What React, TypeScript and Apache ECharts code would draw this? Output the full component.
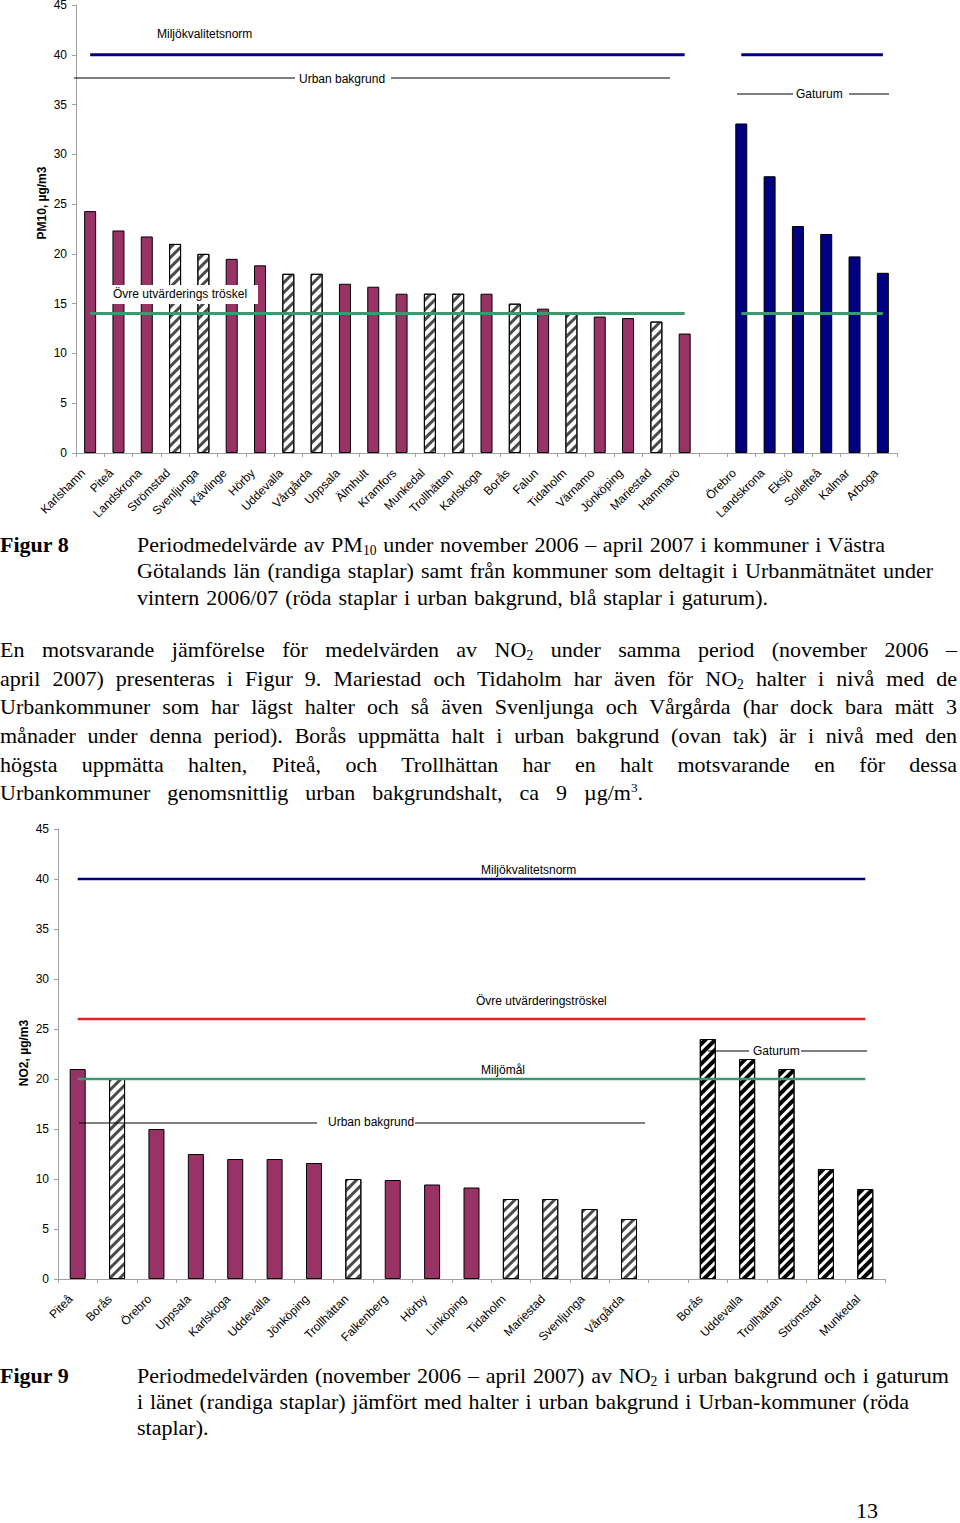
import React, { useEffect, useRef } from 'react';
import * as echarts from 'echarts';

// ---------- DATA ----------
const pm10Categories = ['Karlshamn', 'Piteå', 'Landskrona', 'Strömstad', 'Svenljunga', 'Kävlinge', 'Hörby', 'Uddevalla', 'Vårgårda', 'Uppsala', 'Älmhult', 'Kramfors', 'Munkedal', 'Trollhättan', 'Karlskoga', 'Borås', 'Falun', 'Tidaholm', 'Värnamo', 'Jönköping', 'Mariestad', 'Hammarö', '', 'Örebro', 'Landskrona', 'Eksjö', 'Sollefteå', 'Kalmar', 'Arboga'];
const pm10Values = [24.3, 22.35, 21.75, 21.0, 20.0, 19.5, 18.85, 18.0, 18.0, 17.0, 16.7, 16.0, 16.0, 16.0, 16.0, 15.0, 14.5, 14.0, 13.7, 13.55, 13.2, 12.0, null, 33.1, 27.8, 22.8, 22.0, 19.75, 18.1];
// u = urban bakgrund (red), h = Västra Götaland (hatched), g = gaturum (blue)
const pm10Kinds = ['u', 'u', 'u', 'h', 'h', 'u', 'u', 'h', 'h', 'u', 'u', 'u', 'h', 'h', 'u', 'h', 'u', 'h', 'u', 'u', 'h', 'u', '', 'g', 'g', 'g', 'g', 'g', 'g'];
const pm10Norm = 40;
const pm10Threshold = 14;
const pm10Segments = [[0, 21], [23, 28]];

const no2Categories = ['Piteå', 'Borås', 'Örebro', 'Uppsala', 'Karlskoga', 'Uddevalla', 'Jönköping', 'Trollhättan', 'Falkenberg', 'Hörby', 'Linköping', 'Tidaholm', 'Mariestad', 'Svenljunga', 'Vårgårda', '', 'Borås', 'Uddevalla', 'Trollhättan', 'Strömstad', 'Munkedal'];
const no2Values = [21.0, 20.0, 15.0, 12.5, 12.0, 12.0, 11.6, 10.0, 9.9, 9.45, 9.15, 8.0, 8.0, 7.0, 6.0, null, 24.0, 22.0, 21.0, 11.0, 9.0];
// s = gaturum in länet (bold hatched)
const no2Kinds = ['u', 'h', 'u', 'u', 'u', 'u', 'u', 'h', 'u', 'u', 'u', 'h', 'h', 'h', 'h', '', 's', 's', 's', 's', 's'];
const no2Norm = 40;
const no2Threshold = 26;
const no2Target = 20;
const no2Segments = [[0, 20]];

const yMin = 0;
const yMax = 45;
const yStep = 5;

// ---------- STYLES ----------
const RED = '#993366';
const NAVY = '#000080';
const GREEN = '#3A9A6E';
const LINE_RED = '#E32028';
const AXIS = '#A0A0A0';
const SANS = '"Liberation Sans", Arial, sans-serif';
const SERIF = '"Liberation Serif", "Times New Roman", serif';

function barItem(v: number | null, kind: string) {
  if (v == null) return '-';
  const base: any = { borderColor: '#000', borderWidth: 1 };
  if (kind === 'u') base.color = RED;
  else if (kind === 'g') base.color = NAVY;
  else if (kind === 'h') {
    base.color = '#fff';
    base.decal = { symbol: 'rect', symbolSize: 1, dashArrayX: [1, 0], dashArrayY: [2.4, 3.4], rotation: -Math.PI / 4, color: '#4a4a4a' };
  } else {
    base.color = '#fff';
    base.decal = { symbol: 'rect', symbolSize: 1, dashArrayX: [1, 0], dashArrayY: [3.2, 3], rotation: -Math.PI / 4, color: '#000' };
  }
  return { value: v, itemStyle: base };
}

function hLine(axisIdx: number, value: number, seg: number[], color: string, width: number) {
  return {
    type: 'line', xAxisIndex: axisIdx, yAxisIndex: axisIdx,
    data: [[seg[0], value], [seg[1], value]],
    symbol: 'none', silent: true, z: 5,
    lineStyle: { color, width },
  };
}

function xAxis(gridIndex: number, data: string[]) {
  return {
    type: 'category', gridIndex, data, boundaryGap: true,
    axisLine: { show: true, lineStyle: { color: AXIS, width: 1 } },
    axisTick: { show: true, length: 4, lineStyle: { color: AXIS } },
    axisLabel: { interval: 0, rotate: 45, margin: 11, padding: [0, 10, 0, 0], color: '#000', fontSize: 12, fontFamily: SANS },
    splitLine: { show: false },
  };
}

function yAxis(gridIndex: number) {
  return {
    type: 'value', gridIndex, min: yMin, max: yMax, interval: yStep,
    axisLine: { show: true, lineStyle: { color: AXIS, width: 1 } },
    axisTick: { show: true, length: 4, lineStyle: { color: AXIS } },
    axisLabel: { margin: 9, color: '#000', fontSize: 12, fontFamily: SANS },
    splitLine: { show: false },
  };
}

function txt(text: string, x: number, y: number, extra: any = {}) {
  return {
    type: 'text', x, y, z: 100, silent: true,
    style: { text, fill: '#000', font: `12px ${SANS}`, textVerticalAlign: 'middle', ...extra },
  };
}

function seg(x1: number, y1: number, x2: number, y2: number) {
  return { type: 'line', z: 100, silent: true, shape: { x1, y1, x2, y2 }, style: { stroke: '#000', lineWidth: 1 } };
}

function Chart() {
  const ref = useRef<HTMLDivElement>(null);
  useEffect(() => {
    if (!ref.current) return;
    const chart = echarts.init(ref.current, null, { renderer: 'svg' });
    const option: any = {
      animation: false,
      textStyle: { fontFamily: SANS },
      grid: [
        { left: 76, top: 5, width: 821, height: 448, outerBoundsMode: 'none' },
        { left: 58, top: 829, width: 827, height: 450, outerBoundsMode: 'none' },
      ],
      xAxis: [xAxis(0, pm10Categories), xAxis(1, no2Categories)],
      yAxis: [yAxis(0), yAxis(1)],
      series: [
        {
          type: 'bar', xAxisIndex: 0, yAxisIndex: 0, barWidth: 12, z: 2,
          data: pm10Values.map((v, i) => barItem(v, pm10Kinds[i])),
        },
        {
          type: 'bar', xAxisIndex: 1, yAxisIndex: 1, barWidth: 16, z: 2,
          data: no2Values.map((v, i) => barItem(v, no2Kinds[i])),
        },
        ...pm10Segments.map((s) => hLine(0, pm10Norm, s, NAVY, 3)),
        ...pm10Segments.map((s) => hLine(0, pm10Threshold, s, GREEN, 3)),
        ...no2Segments.map((s) => hLine(1, no2Norm, s, NAVY, 2.5)),
        ...no2Segments.map((s) => hLine(1, no2Threshold, s, LINE_RED, 2.5)),
        ...no2Segments.map((s) => hLine(1, no2Target, s, GREEN, 2.5)),
      ],
      graphic: [
        // Figure 8 annotations
        txt('Miljökvalitetsnorm', 157, 34),
        { type: 'rect', z: 99, silent: true, shape: { x: 112, y: 285, width: 146, height: 19 }, style: { fill: '#fff' } },
        txt('Övre utvärderings tröskel', 113, 294),
        seg(74, 78, 295, 78), txt('Urban bakgrund', 299, 79), seg(391, 78, 670, 78),
        seg(737, 94, 793, 94), txt('Gaturum', 796, 94), seg(849, 94, 889, 94),
        { ...txt('PM10, µg/m3', 42, 203, { font: `bold 12px ${SANS}`, textAlign: 'center' }), rotation: Math.PI / 2 },
        // Figure 9 annotations
        txt('Miljökvalitetsnorm', 481, 870),
        txt('Övre utvärderingströskel', 476, 1001),
        txt('Miljömål', 481, 1070),
        seg(79, 1123, 317, 1123), txt('Urban bakgrund', 328, 1122), seg(415, 1123, 645, 1123),
        seg(708, 1051, 749, 1051), txt('Gaturum', 753, 1051), seg(801, 1051, 867, 1051),
        { ...txt('NO2, µg/m3', 24, 1053, { font: `bold 12px ${SANS}`, textAlign: 'center' }), rotation: Math.PI / 2 },
      ],
    };
    chart.setOption(option);
    return () => chart.dispose();
  }, []);
  return <div ref={ref} style={{ position: 'absolute', left: 0, top: 0, width: 960, height: 1523 }} />;
}

const sub = (t: string) => <span style={{ fontSize: '0.62em', verticalAlign: '-0.22em', lineHeight: 0 }}>{t}</span>;
const sup = (t: string) => <span style={{ fontSize: '0.6em', verticalAlign: '0.6em', lineHeight: 0 }}>{t}</span>;

function Line({ left, baseline, width, children, bold = false, justify = true }: any) {
  return (
    <div
      style={{
        position: 'absolute', left, top: baseline - 21.5, width, height: 28, lineHeight: '28px',
        fontSize: 22, fontFamily: SERIF, color: '#000', fontWeight: bold ? 'bold' : 'normal',
        textAlign: justify ? 'justify' : 'left', textAlignLast: justify ? 'justify' : 'left',
        whiteSpace: 'nowrap', zIndex: 2,
      }}
    >
      {children}
    </div>
  );
}

export default function App() {
  return (
    <div style={{ position: 'absolute', left: 0, top: 0, width: 960, height: 1523, background: '#fff', overflow: 'hidden' }}>
      <Chart />
      <Line left={0} baseline={552} width={90} justify={false} bold>Figur 8</Line>
      <Line left={137} baseline={552} width={748}>Periodmedelvärde av PM{sub('10')} under november 2006 – april 2007 i kommuner i Västra</Line>
      <Line left={137} baseline={578} width={796}>Götalands län (randiga staplar) samt från kommuner som deltagit i Urbanmätnätet under</Line>
      <Line left={137} baseline={605} width={631}>vintern 2006/07 (röda staplar i urban bakgrund, blå staplar i gaturum).</Line>

      <Line left={0} baseline={657} width={957}>En motsvarande jämförelse för medelvärden av NO{sub('2')} under samma period (november 2006 –</Line>
      <Line left={0} baseline={686} width={957}>april 2007) presenteras i Figur 9. Mariestad och Tidaholm har även för NO{sub('2')} halter i nivå med de</Line>
      <Line left={0} baseline={714} width={957}>Urbankommuner som har lägst halter och så även Svenljunga och Vårgårda (har dock bara mätt 3</Line>
      <Line left={0} baseline={743} width={957}>månader under denna period). Borås uppmätta halt i urban bakgrund (ovan tak) är i nivå med den</Line>
      <Line left={0} baseline={772} width={957}>högsta uppmätta halten, Piteå, och Trollhättan har en halt motsvarande en för dessa</Line>
      <Line left={0} baseline={800} width={643}>Urbankommuner genomsnittlig urban bakgrundshalt, ca 9 µg/m{sup('3')}.</Line>

      <Line left={0} baseline={1383} width={90} justify={false} bold>Figur 9</Line>
      <Line left={137} baseline={1383} width={812}>Periodmedelvärden (november 2006 – april 2007) av NO{sub('2')} i urban bakgrund och i gaturum</Line>
      <Line left={137} baseline={1409} width={772}>i länet (randiga staplar) jämfört med halter i urban bakgrund i Urban-kommuner (röda</Line>
      <Line left={137} baseline={1435} width={200} justify={false}>staplar).</Line>

      <Line left={856} baseline={1518} width={40} justify={false}>13</Line>
    </div>
  );
}
